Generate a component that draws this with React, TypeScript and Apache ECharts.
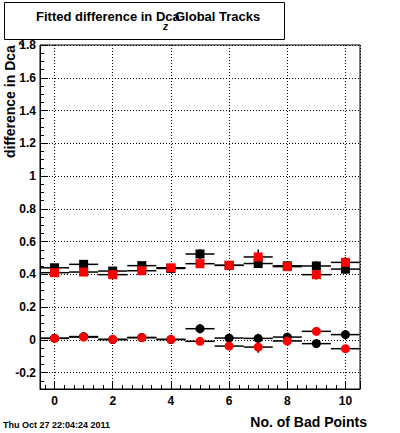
import React, { useEffect, useRef } from 'react';
import * as echarts from 'echarts';

// ---- data ----
const xValues = [0, 1, 2, 3, 4, 5, 6, 7, 8, 9, 10];

const blackSquareY = [0.440, 0.461, 0.420, 0.453, 0.436, 0.524, 0.455, 0.466, 0.452, 0.451, 0.432];
const blackSquareErr = [0.015, 0.024, 0.015, 0.015, 0.01, 0.031, 0.015, 0.027, 0.02, 0.03, 0.028];

const redSquareY = [0.410, 0.414, 0.398, 0.422, 0.440, 0.465, 0.455, 0.506, 0.447, 0.398, 0.473];
const redSquareErr = [0.015, 0.015, 0.02, 0.015, 0.01, 0.015, 0.015, 0.045, 0.02, 0.03, 0.033];

const blackCircleY = [0.010, 0.020, 0.002, 0.015, 0.002, 0.068, 0.011, 0.009, 0.017, -0.023, 0.032];
const blackCircleErr = [0.01, 0.015, 0.01, 0.01, 0.01, 0.027, 0.02, 0.028, 0.02, 0.027, 0.027];

const redCircleY = [0.009, 0.017, 0.003, 0.013, 0.003, -0.009, -0.038, -0.044, -0.007, 0.052, -0.054];
const redCircleErr = [0.01, 0.01, 0.01, 0.01, 0.01, 0.015, 0.015, 0.035, 0.015, 0.024, 0.02];

const xTickLabels = [0, 2, 4, 6, 8, 10];
const yTickLabels = [-0.2, 0, 0.2, 0.4, 0.6, 0.8, 1, 1.2, 1.4, 1.6, 1.8];

const titleMain = 'Fitted difference in Dca';
const titleSub = 'z';
const titleTail = 'Global Tracks';
const yTitle = 'difference in Dca';
const xTitle = 'No. of Bad Points';
const dateText = 'Thu Oct 27 22:04:24 2011';

const FONT = '"Liberation Sans", Arial, Helvetica, sans-serif';

function makeRender(shape: 'rect' | 'circle', color: string) {
  return (_params: any, api: any) => {
    const x = api.value(0);
    const y = api.value(1);
    const e = api.value(2);
    const l = api.coord([x - 0.5, y]);
    const r = api.coord([x + 0.5, y]);
    const t = api.coord([x, y + e]);
    const b = api.coord([x, y - e]);
    const c = api.coord([x, y]);
    const lineStyle = { stroke: '#000', lineWidth: 1.5 };
    const marker =
      shape === 'rect'
        ? { type: 'rect', shape: { x: c[0] - 4.5, y: c[1] - 4.5, width: 9, height: 9 }, style: { fill: color } }
        : { type: 'circle', shape: { cx: c[0], cy: c[1], r: 4.5 }, style: { fill: color } };
    return {
      type: 'group',
      children: [
        { type: 'line', shape: { x1: l[0], y1: l[1], x2: r[0], y2: r[1] }, style: lineStyle },
        { type: 'line', shape: { x1: t[0], y1: t[1], x2: b[0], y2: b[1] }, style: lineStyle },
        marker,
      ],
    };
  };
}

function buildData(ys: number[], errs: number[]) {
  return xValues.map((x, i) => [x, ys[i], errs[i]]);
}

export default function App() {
  const ref = useRef<HTMLDivElement>(null);

  useEffect(() => {
    document.body.style.margin = '0';
    if (!ref.current) return;
    const chart = echarts.init(ref.current, null, { renderer: 'svg' });

    const labelStyle = { color: '#000', fontWeight: 'bold' as const, fontSize: 12, fontFamily: FONT };
    const dotted = { color: '#000', width: 1, type: [1, 2] as any };

    const option: any = {
      animation: false,
      backgroundColor: '#fff',
      grid: {
        left: 40,
        right: 40,
        top: 45,
        bottom: 44,
        show: true,
        borderColor: '#000',
        borderWidth: 1,
        backgroundColor: 'transparent',
        containLabel: false,
        outerBoundsMode: 'none',
      },
      xAxis: [
        {
          type: 'value',
          position: 'bottom',
          min: -0.5,
          max: 10.5,
          minInterval: 2,
          maxInterval: 2,
          axisLine: { show: true, onZero: false, lineStyle: { color: '#000', width: 1 } },
          axisTick: { show: true, inside: true, length: 8, lineStyle: { color: '#000', width: 1 } },
          axisLabel: {
            ...labelStyle,
            margin: 6,
            formatter: (v: number) => {
              const m = xTickLabels.find((t) => Math.abs(t - v) < 1e-6);
              return m === undefined ? '' : String(m);
            },
          },
          splitLine: { show: true, lineStyle: dotted },
        },
        {
          type: 'value',
          position: 'bottom',
          min: -0.5,
          max: 10.5,
          minInterval: 1 / 3,
          maxInterval: 1 / 3,
          axisLine: { show: false, onZero: false },
          axisTick: { show: true, inside: true, length: 4, lineStyle: { color: '#000', width: 1 } },
          axisLabel: { show: false },
          splitLine: { show: false },
        },
      ],
      yAxis: [
        {
          type: 'value',
          position: 'left',
          min: -0.3,
          max: 1.8,
          minInterval: 0.2,
          maxInterval: 0.2,
          axisLine: { show: true, onZero: false, lineStyle: { color: '#000', width: 1 } },
          axisTick: { show: true, inside: true, length: 8, lineStyle: { color: '#000', width: 1 } },
          axisLabel: {
            ...labelStyle,
            margin: 4,
            formatter: (v: number) => {
              const m = yTickLabels.find((t) => Math.abs(t - v) < 1e-6);
              return m === undefined ? '' : String(m);
            },
          },
          splitLine: { show: true, lineStyle: dotted },
        },
        {
          type: 'value',
          position: 'left',
          min: -0.3,
          max: 1.8,
          minInterval: 0.05,
          maxInterval: 0.05,
          axisLine: { show: false, onZero: false },
          axisTick: { show: true, inside: true, length: 4, lineStyle: { color: '#000', width: 1 } },
          axisLabel: { show: false },
          splitLine: { show: false },
        },
      ],
      series: [
        { type: 'custom', name: 'black squares', renderItem: makeRender('rect', '#000'), data: buildData(blackSquareY, blackSquareErr), xAxisIndex: 0, yAxisIndex: 0, z: 3 },
        { type: 'custom', name: 'red squares', renderItem: makeRender('rect', '#ff0000'), data: buildData(redSquareY, redSquareErr), xAxisIndex: 0, yAxisIndex: 0, z: 4 },
        { type: 'custom', name: 'black circles', renderItem: makeRender('circle', '#000'), data: buildData(blackCircleY, blackCircleErr), xAxisIndex: 0, yAxisIndex: 0, z: 5 },
        { type: 'custom', name: 'red circles', renderItem: makeRender('circle', '#ff0000'), data: buildData(redCircleY, redCircleErr), xAxisIndex: 0, yAxisIndex: 0, z: 6 },
      ],
      graphic: [
        {
          type: 'rect',
          shape: { x: 4.5, y: 2.5, width: 280, height: 37 },
          style: { fill: '#fff', stroke: '#000', lineWidth: 1 },
          z: 10,
        },
        {
          type: 'text',
          x: 36,
          y: 16.5,
          z: 11,
          style: { text: titleMain, font: `bold 13px ${FONT}`, fill: '#000', textAlign: 'left', textVerticalAlign: 'middle', align: 'left', verticalAlign: 'middle' },
        },
        {
          type: 'text',
          x: 163,
          y: 26,
          z: 11,
          style: { text: titleSub, font: `italic bold 10px ${FONT}`, fill: '#000', textAlign: 'left', textVerticalAlign: 'middle', align: 'left', verticalAlign: 'middle' },
        },
        {
          type: 'text',
          x: 175,
          y: 16.5,
          z: 11,
          style: { text: titleTail, font: `bold 13px ${FONT}`, fill: '#000', textAlign: 'left', textVerticalAlign: 'middle', align: 'left', verticalAlign: 'middle' },
        },
        {
          type: 'text',
          x: 10,
          y: 158,
          rotation: Math.PI / 2,
          z: 11,
          style: { text: yTitle, font: `bold 14px ${FONT}`, fill: '#000', textAlign: 'left', textVerticalAlign: 'middle', align: 'left', verticalAlign: 'middle' },
        },
        {
          type: 'text',
          x: 20.5,
          y: 44,
          rotation: Math.PI / 2,
          z: 11,
          style: { text: titleSub, font: `italic bold 9px ${FONT}`, fill: '#000', textAlign: 'center', textVerticalAlign: 'middle', align: 'center', verticalAlign: 'middle' },
        },
        {
          type: 'text',
          x: 367,
          y: 422,
          z: 11,
          style: { text: xTitle, font: `bold 14px ${FONT}`, fill: '#000', textAlign: 'right', textVerticalAlign: 'middle', align: 'right', verticalAlign: 'middle' },
        },
        {
          type: 'text',
          x: 3,
          y: 425,
          z: 11,
          style: { text: dateText, font: `bold 9px ${FONT}`, fill: '#000', textAlign: 'left', textVerticalAlign: 'middle', align: 'left', verticalAlign: 'middle' },
        },
      ],
    };

    chart.setOption(option);
    return () => chart.dispose();
  }, []);

  return (
    <div
      ref={ref}
      style={{ position: 'absolute', left: 0, top: 0, width: 400, height: 433, background: '#fff' }}
    />
  );
}
